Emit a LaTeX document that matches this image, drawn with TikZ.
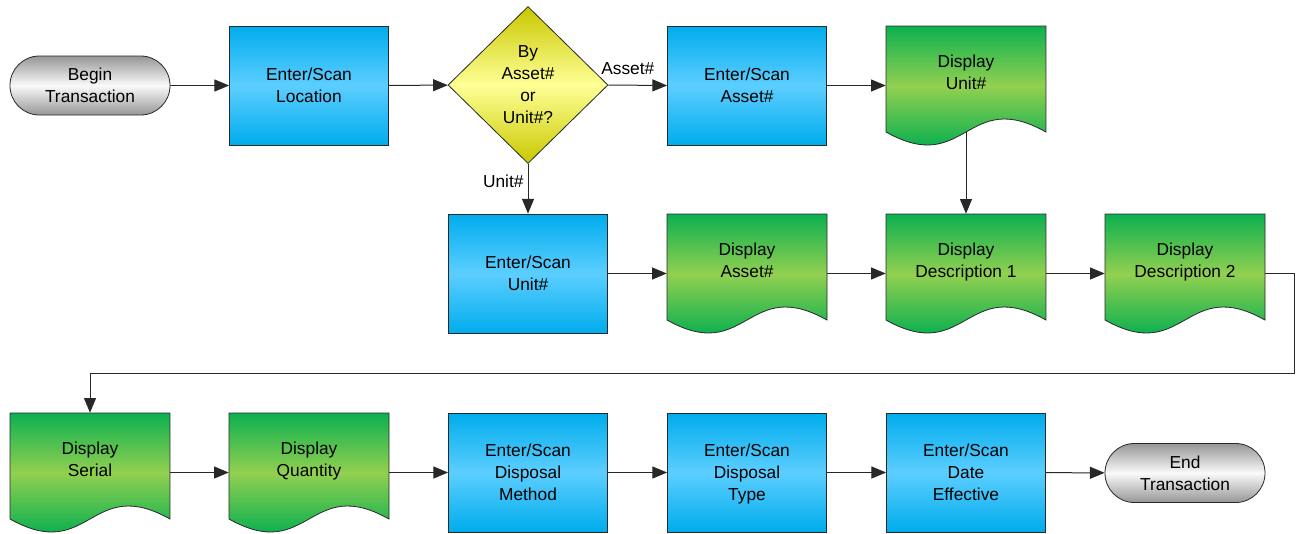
\documentclass[tikz,border=0pt]{standalone}
\usepackage{fontspec}
\setmainfont{Liberation Sans}
\usetikzlibrary{shapes.geometric,arrows.meta}
\definecolor{blueE}{RGB}{0,172,236}
\definecolor{blueM}{RGB}{92,206,255}
\definecolor{greenE}{RGB}{12,176,80}
\definecolor{greenM}{RGB}{146,208,80}
\definecolor{yelE}{RGB}{200,200,0}
\definecolor{yelM}{RGB}{255,255,150}
\definecolor{grayE}{RGB}{150,150,150}
\definecolor{grayM}{RGB}{250,250,250}
\definecolor{lineC}{RGB}{40,40,40}
\newcommand\nodepth[1]{\raisebox{0pt}[\height][0pt]{#1}}
\newcommand\docshape[4]{%
  \begin{scope}
    \clip (#2-80,#3) -- (#2+80,#3) -- (#2+80,#3+106) .. controls (#2,#3+61) and (#2,#3+151) .. (#2-80,#3+106) -- cycle;
    \shade[top color=greenE, bottom color=greenE, middle color=greenM] (#2-80,#3) rectangle (#2+80,#3+120);
  \end{scope}
  \draw[shapeline] (#2-80,#3) -- (#2+80,#3) -- (#2+80,#3+106) .. controls (#2,#3+61) and (#2,#3+151) .. (#2-80,#3+106) -- cycle;
  \node[docbox] (#1) at (#2,#3+59.5) {};
  \coordinate (#1-w) at (#2,#3+106);
  \node (#1-t) at (#2,#3+46.5) {#4};
}
\begin{document}
\begin{tikzpicture}[x=0.75pt,y=-0.75pt,
  every node/.style={font=\fontsize{13pt}{16.5pt}\selectfont, align=center, text=black},
  shapeline/.style={draw=lineC, line width=0.6pt},
  procbox/.style={rectangle, shapeline, minimum width=119.25pt, minimum height=89.25pt, inner sep=0pt,
    top color=blueE, bottom color=blueE, middle color=blueM},
  termbox/.style={rectangle, rounded corners=22pt, shapeline, minimum width=120pt, minimum height=44.25pt, inner sep=0pt,
    top color=grayE, bottom color=grayE, middle color=grayM},
  decbox/.style={diamond, shapeline, minimum width=120pt, minimum height=117.75pt, inner sep=0pt,
    top color=yelE, bottom color=yelE, middle color=yelM},
  docbox/.style={rectangle, minimum width=120pt, minimum height=89.25pt, inner sep=0pt},
  conn/.style={draw=lineC, line width=0.75pt, -{Triangle[length=11pt,width=9pt]}},
  elabel/.style={inner sep=0pt},
]
\useasboundingbox (0,0) rectangle (1297,533);

% row 1
\node[termbox] (begin) at (90,85.5) {Begin\\Transaction};
\node[procbox] (loc) at (309,85.5) {Enter/Scan\\Location};
\node[decbox] (dec) at (528,85) {By\\Asset\#\\or\\Unit\#?};
\node[procbox] (asset) at (747,85.5) {Enter/Scan\\Asset\#};
\docshape{dunit}{966}{26}{Display\\Unit\#}

% row 2
\node[procbox] (unit) at (528,273.5) {Enter/Scan\\Unit\#};
\docshape{dasset}{747}{214}{Display\\Asset\#}
\docshape{desc1}{966}{214}{Display\\\nodepth{Description 1}}
\docshape{desc2}{1185}{214}{Display\\\nodepth{Description 2}}

% row 3
\docshape{serial}{90}{413}{Display\\Serial}
\docshape{qty}{309}{413}{Display\\\nodepth{Quantity}}
\node[procbox] (method) at (528,472.5) {Enter/Scan\\Disposal\\Method};
\node[procbox] (dtype) at (747,472.5) {Enter/Scan\\Disposal\\\nodepth{Type}};
\node[procbox] (date) at (966,472.5) {Enter/Scan\\Date\\Effective};
\node[termbox] (end) at (1185,473) {End\\Transaction};

% connectors
\draw[conn] (begin) -- (loc);
\draw[conn] (loc) -- (dec);
\draw[conn] (dec.east) -- node[elabel, pos=0.33, above=7.5pt] (lA) {Asset\#} (asset.west);
\draw[conn] (dec.south) -- node[elabel, pos=0.36, left=3pt] (lU) {Unit\#} (unit.north);
\draw[conn] (asset) -- (dunit);
\draw[conn] (dunit-w) -- (desc1.north);
\draw[conn] (unit) -- (dasset);
\draw[conn] (dasset) -- (desc1);
\draw[conn] (desc1) -- (desc2);
\coordinate (r1) at (1294,373);
\draw[conn] (desc2.east) -| (r1) -| (serial.north);
\draw[conn] (serial) -- (qty);
\draw[conn] (qty) -- (method);
\draw[conn] (method) -- (dtype);
\draw[conn] (dtype) -- (date);
\draw[conn] (date) -- (end);
\end{tikzpicture}
\end{document}
